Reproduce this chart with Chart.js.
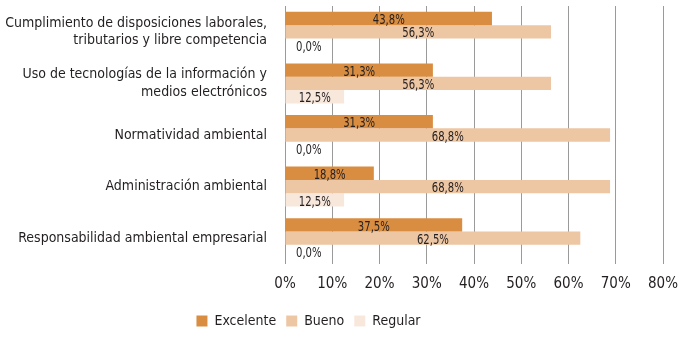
<!DOCTYPE html>
<html>
<head>
<meta charset="utf-8">
<script src="https://cdn.jsdelivr.net/npm/chart.js@4"></script>
<style>
  body { margin: 0; background: #fff; }
  #wrap { width: 698px; height: 340px; }
</style>
</head>
<body>
<div id="wrap"><canvas id="chart"></canvas></div>
<script>
const categories = [
  ["Cumplimiento de disposiciones laborales,", "tributarios y libre competencia"],
  ["Uso de tecnologías de la información y", "medios electrónicos"],
  "Normatividad ambiental",
  "Administración ambiental",
  "Responsabilidad ambiental empresarial"
];
const seriesNames = ["Excelente", "Bueno", "Regular"];
const excelente = [43.8, 31.3, 31.3, 18.8, 37.5];
const bueno = [56.3, 56.3, 68.8, 68.8, 62.5];
const regular = [0.0, 12.5, 0.0, 12.5, 0.0];
const tickValues = [0, 10, 20, 30, 40, 50, 60, 70, 80];

const FONT = "'DejaVu Sans Condensed', 'Liberation Sans Narrow', sans-serif";
const textColor = "#231f20";

// value labels centred on each bar, pushed right when the bar is too short
const barLabels = {
  id: "barLabels",
  afterDatasetsDraw(chart) {
    const ctx = chart.ctx;
    const squeeze = 0.8;
    ctx.save();
    ctx.font = "14px " + FONT;
    ctx.fillStyle = textColor;
    ctx.textAlign = "center";
    ctx.textBaseline = "middle";
    chart.data.datasets.forEach(function (ds, i) {
      const meta = chart.getDatasetMeta(i);
      meta.data.forEach(function (bar, j) {
        const txt = ds.data[j].toFixed(1).replace(".", ",") + "%";
        const w = ctx.measureText(txt).width * squeeze;
        let x = (bar.x + bar.base) / 2;
        x = Math.max(x, bar.base + w / 2 + 11);
        ctx.save();
        ctx.translate(x, bar.y + 2);
        ctx.scale(squeeze, 1);
        ctx.fillText(txt, 0, 0);
        ctx.restore();
      });
    });
    ctx.restore();
  }
};

// legend in the reference sits a bit left of centre
const shiftLegend = {
  id: "shiftLegend",
  afterLayout(chart) {
    chart.legend.left -= 23;
    chart.legend.right -= 23;
  }
};

new Chart(document.getElementById("chart"), {
  type: "bar",
  data: {
    labels: categories,
    datasets: [
      { label: seriesNames[0], data: excelente, backgroundColor: "#d98d41" },
      { label: seriesNames[1], data: bueno, backgroundColor: "#edc6a3" },
      { label: seriesNames[2], data: regular, backgroundColor: "#f8e8dc" }
    ]
  },
  options: {
    indexAxis: "y",
    responsive: true,
    maintainAspectRatio: false,
    animation: false,
    categoryPercentage: 0.775,
    barPercentage: 1,
    layout: { padding: { top: 6, right: 35, left: 0, bottom: 2 } },
    scales: {
      x: {
        min: 0,
        max: 80,
        afterBuildTicks(scale) {
          scale.ticks = tickValues.map(function (v) { return { value: v }; });
        },
        grid: { color: "#9a9a9a", lineWidth: 1, drawTicks: false },
        border: { display: false },
        ticks: {
          padding: 11,
          color: textColor,
          font: { family: FONT, size: 15 },
          callback: function (v) { return v + "%"; }
        }
      },
      y: {
        grid: { display: false },
        border: { display: false },
        afterFit(scale) {
          scale.width = 285;
          scale.paddingTop = 0;
          scale.paddingBottom = 0;
        },
        ticks: {
          padding: 10,
          color: textColor,
          font: { family: FONT, size: 14, lineHeight: 1.25 }
        }
      }
    },
    plugins: {
      legend: {
        position: "bottom",
        labels: {
          color: textColor,
          boxWidth: 11,
          boxHeight: 11,
          padding: 10,
          font: { family: FONT, size: 14 }
        }
      },
      tooltip: { enabled: false }
    }
  },
  plugins: [barLabels, shiftLegend]
});
</script>
</body>
</html>
